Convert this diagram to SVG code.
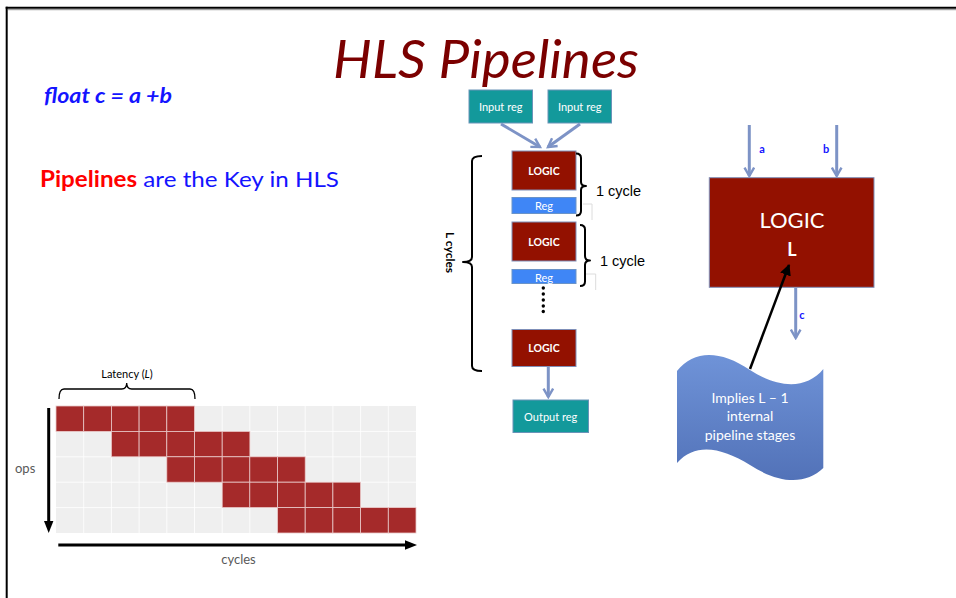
<svg xmlns="http://www.w3.org/2000/svg" width="956" height="598" viewBox="0 0 956 598">
  <defs>
    <style>
      .cal { font-family: Lato, "Open Sans", "Liberation Sans", sans-serif; }
      .ari { font-family: "Liberation Sans", Arial, sans-serif; }
      .logic { fill: #931100; stroke: #7f8fb8; stroke-width: 1; }
      .teal { fill: #13999b; stroke: #6a93b8; stroke-width: 1; }
      .reg { fill: #3f86f6; stroke: #6a93c8; stroke-width: 1; }
      .wt { fill: #ffffff; text-anchor: middle; }
      .flow { stroke: #7d93c6; stroke-width: 3; fill: none; marker-end: url(#chev); }
      .brace { fill: none; stroke: #000; stroke-width: 2; stroke-linejoin: round; }
      .faint { fill: none; stroke: #dcdcdc; stroke-width: 1; }
      .lbl { fill: #1414ff; font-weight: bold; font-size: 11px; }
      .gray { fill: #595959; font-size: 13px; }
      .cell { fill: #a52a2a; stroke: #e9c9c9; stroke-width: 0.8; }
    </style>
    <marker id="chev" viewBox="0 0 10 10" refX="8" refY="5" markerWidth="4" markerHeight="4" orient="auto" markerUnits="strokeWidth">
      <path d="M1,1 L8,5 L1,9" fill="none" stroke="#7d93c6" stroke-width="2"/>
    </marker>
    <marker id="blk" viewBox="0 0 10 10" refX="9" refY="5" markerWidth="4.5" markerHeight="4.5" orient="auto" markerUnits="strokeWidth">
      <path d="M0,0 L10,5 L0,10 Z" fill="#000"/>
    </marker>
    <linearGradient id="waveFill" x1="0" y1="0" x2="0" y2="1">
      <stop offset="0" stop-color="#6f93d8"/>
      <stop offset="1" stop-color="#5272b8"/>
    </linearGradient>
  </defs>

  <rect width="956" height="598" fill="#ffffff"/>

  <!-- slide frame -->
  <g id="frame">
    <line x1="8" y1="9.7" x2="956" y2="9.7" stroke="#8c8c8c" stroke-width="1"/>
    <line x1="5.7" y1="7.7" x2="956" y2="7.7" stroke="#000" stroke-width="2"/>
    <line x1="6.7" y1="6.7" x2="6.7" y2="598" stroke="#000" stroke-width="2"/>
  </g>

  <!-- headings -->
  <g id="title">
    <text x="486" y="78" class="cal" font-size="52" font-style="italic" fill="#7b0000" text-anchor="middle" textLength="306" lengthAdjust="spacingAndGlyphs">HLS Pipelines</text>
  </g>
  <g id="code">
    <text x="44" y="103" class="cal" font-size="20" font-style="italic" font-weight="bold" fill="#1414ff" textLength="128" lengthAdjust="spacingAndGlyphs">float c = a +b</text>
  </g>
  <g id="tagline">
    <text x="40" y="187" class="cal" font-size="22" textLength="299" lengthAdjust="spacingAndGlyphs"><tspan fill="#ff0000" font-weight="bold">Pipelines</tspan><tspan fill="#1414ff"> are the Key in HLS</tspan></text>
  </g>

  <!-- pipeline column -->
  <g id="input-reg-1">
    <rect class="teal" x="469" y="90" width="63.5" height="33"/>
    <text class="cal wt" x="500.7" y="111" font-size="11">Input reg</text>
  </g>
  <g id="input-reg-2">
    <rect class="teal" x="548" y="90" width="63.5" height="33"/>
    <text class="cal wt" x="579.7" y="111" font-size="11">Input reg</text>
  </g>

  <g id="logic-1">
    <rect class="logic" x="512" y="151" width="64" height="39"/>
    <text class="cal wt" x="544" y="174.5" font-size="10.5" font-weight="bold">LOGIC</text>
  </g>
  <g id="reg-1">
    <rect class="reg" x="512" y="197.5" width="64" height="16"/>
    <text class="cal wt" x="544" y="210" font-size="11">Reg</text>
  </g>
  <g id="logic-2">
    <rect class="logic" x="512" y="222" width="64" height="39"/>
    <text class="cal wt" x="544" y="245.5" font-size="10.5" font-weight="bold">LOGIC</text>
  </g>
  <g id="reg-2">
    <rect class="reg" x="512" y="269.5" width="64" height="14"/>
    <text class="cal wt" x="544" y="282" font-size="11">Reg</text>
  </g>
  <g id="ellipsis">
    <circle cx="543.3" cy="288" r="1.7"/>
    <circle cx="543.3" cy="294" r="1.7"/>
    <circle cx="543.3" cy="300" r="1.7"/>
    <circle cx="543.3" cy="306" r="1.7"/>
    <circle cx="543.3" cy="311.5" r="1.7"/>
  </g>
  <g id="logic-3">
    <rect class="logic" x="512" y="329.5" width="64" height="37"/>
    <text class="cal wt" x="544" y="352" font-size="10.5" font-weight="bold">LOGIC</text>
  </g>
  <g id="output-reg">
    <rect class="teal" x="513" y="400" width="75.5" height="32.5"/>
    <text class="cal wt" x="550.7" y="420.5" font-size="11">Output reg</text>
  </g>

  <!-- stage brackets -->
  <g id="cycle-bracket-1">
    <path class="faint" d="M583,204 H592 V220"/>
    <path class="brace" d="M576,153.5 Q581,153.5 581,158 V182 Q581,186 586,186 Q581,186 581,190 V211 Q581,215.5 576,215.5"/>
    <text class="ari" x="596" y="196" font-size="14.5" fill="#000">1 cycle</text>
  </g>
  <g id="cycle-bracket-2">
    <path class="faint" d="M585,274 H595.7 V290"/>
    <path class="brace" d="M580,225 Q585,225 585,229.5 V256 Q585,260.5 590,260.5 Q585,260.5 585,265 V281.5 Q585,286 580,286"/>
    <text class="ari" x="600" y="266" font-size="14.5" fill="#000">1 cycle</text>
  </g>
  <g id="latency-bracket">
    <path class="brace" d="M482,156 Q472,156 472,161 V257 Q472,262 463,262 Q472,262 472,267 V366 Q472,371 482,371"/>
    <text class="cal" transform="translate(446,252.5) rotate(90)" x="0" y="0" font-size="12" font-weight="bold" fill="#000" text-anchor="middle">L cycles</text>
  </g>

  <!-- single logic block view -->
  <g id="logic-block">
    <rect class="logic" x="709.3" y="177.7" width="164.7" height="109.6"/>
    <text class="cal wt" x="792" y="228" font-size="22">LOGIC</text>
    <text class="cal wt" x="792" y="256" font-size="18" font-weight="bold">L</text>
  </g>
  <g id="port-labels">
    <text class="cal lbl" x="762" y="153" text-anchor="middle">a</text>
    <text class="cal lbl" x="826" y="153" text-anchor="middle">b</text>
    <text class="cal lbl" x="802" y="319" text-anchor="middle">c</text>
  </g>
  <g id="note">
    <path d="M677,371 C694,350 720,350 750,370 C778,388 806,390 823.3,369 L823.3,468 C806,485 779,484 750,465 C722,448 696,442 677,463 Z" fill="url(#waveFill)"/>
    <text class="cal wt" x="750" y="403" font-size="14">Implies L – 1</text>
    <text class="cal wt" x="750" y="421" font-size="14">internal</text>
    <text class="cal wt" x="750" y="439.5" font-size="14">pipeline stages</text>
  </g>

  <!-- connectors -->
  <g id="connectors">
    <line class="flow" x1="501" y1="124" x2="540" y2="147"/>
    <line class="flow" x1="580" y1="124" x2="548" y2="147"/>
    <line class="flow" x1="548.3" y1="367" x2="548.3" y2="397"/>
    <line class="flow" x1="749.3" y1="125" x2="749.3" y2="176"/>
    <line class="flow" x1="836.7" y1="125" x2="836.7" y2="176"/>
    <line class="flow" x1="795.7" y1="288" x2="795.7" y2="338"/>
    <line x1="750" y1="369" x2="789" y2="265" stroke="#000" stroke-width="2.5" marker-end="url(#blk)"/>
  </g>

  <!-- schedule chart -->
  <g id="schedule-chart">
    <g id="grid">
      <rect x="56" y="406" width="360" height="127" fill="#efefef"/>
      <g stroke="#ffffff" stroke-width="0.8">
        <line x1="83.7" y1="406" x2="83.7" y2="533"/>
        <line x1="111.4" y1="406" x2="111.4" y2="533"/>
        <line x1="139.1" y1="406" x2="139.1" y2="533"/>
        <line x1="166.8" y1="406" x2="166.8" y2="533"/>
        <line x1="194.5" y1="406" x2="194.5" y2="533"/>
        <line x1="222.2" y1="406" x2="222.2" y2="533"/>
        <line x1="249.8" y1="406" x2="249.8" y2="533"/>
        <line x1="277.5" y1="406" x2="277.5" y2="533"/>
        <line x1="305.2" y1="406" x2="305.2" y2="533"/>
        <line x1="332.9" y1="406" x2="332.9" y2="533"/>
        <line x1="360.6" y1="406" x2="360.6" y2="533"/>
        <line x1="388.3" y1="406" x2="388.3" y2="533"/>
        <line x1="56" y1="431.4" x2="416" y2="431.4"/>
        <line x1="56" y1="456.8" x2="416" y2="456.8"/>
        <line x1="56" y1="482.2" x2="416" y2="482.2"/>
        <line x1="56" y1="507.6" x2="416" y2="507.6"/>
      </g>
    </g>
    <g id="busy-cells">
      <rect class="cell" x="56" y="406" width="27.7" height="25.4"/>
      <rect class="cell" x="83.7" y="406" width="27.7" height="25.4"/>
      <rect class="cell" x="111.4" y="406" width="27.7" height="25.4"/>
      <rect class="cell" x="139.1" y="406" width="27.7" height="25.4"/>
      <rect class="cell" x="166.8" y="406" width="27.7" height="25.4"/>

      <rect class="cell" x="111.4" y="431.4" width="27.7" height="25.4"/>
      <rect class="cell" x="139.1" y="431.4" width="27.7" height="25.4"/>
      <rect class="cell" x="166.8" y="431.4" width="27.7" height="25.4"/>
      <rect class="cell" x="194.5" y="431.4" width="27.7" height="25.4"/>
      <rect class="cell" x="222.2" y="431.4" width="27.7" height="25.4"/>

      <rect class="cell" x="166.8" y="456.8" width="27.7" height="25.4"/>
      <rect class="cell" x="194.5" y="456.8" width="27.7" height="25.4"/>
      <rect class="cell" x="222.2" y="456.8" width="27.7" height="25.4"/>
      <rect class="cell" x="249.8" y="456.8" width="27.7" height="25.4"/>
      <rect class="cell" x="277.5" y="456.8" width="27.7" height="25.4"/>

      <rect class="cell" x="222.2" y="482.2" width="27.7" height="25.4"/>
      <rect class="cell" x="249.8" y="482.2" width="27.7" height="25.4"/>
      <rect class="cell" x="277.5" y="482.2" width="27.7" height="25.4"/>
      <rect class="cell" x="305.2" y="482.2" width="27.7" height="25.4"/>
      <rect class="cell" x="332.9" y="482.2" width="27.7" height="25.4"/>

      <rect class="cell" x="277.5" y="507.6" width="27.7" height="25.4"/>
      <rect class="cell" x="305.2" y="507.6" width="27.7" height="25.4"/>
      <rect class="cell" x="332.9" y="507.6" width="27.7" height="25.4"/>
      <rect class="cell" x="360.6" y="507.6" width="27.7" height="25.4"/>
      <rect class="cell" x="388.3" y="507.6" width="27.7" height="25.4"/>
    </g>
    <g id="axes">
      <line x1="48.7" y1="408" x2="48.7" y2="522" stroke="#000" stroke-width="3"/>
      <path d="M44,521 L53.4,521 L48.7,533 Z" fill="#000"/>
      <line x1="58.3" y1="545" x2="406" y2="545" stroke="#000" stroke-width="3"/>
      <path d="M405,540.3 L405,549.7 L417,545 Z" fill="#000"/>
      <text class="cal gray" x="15" y="473">ops</text>
      <text class="cal gray" x="238.5" y="564" text-anchor="middle">cycles</text>
    </g>
    <g id="latency-label">
      <path d="M59,399 Q59,389 64,389 H121.7 Q126.7,389 126.7,383 Q126.7,389 131.7,389 H190 Q195,389 195,399" fill="none" stroke="#000" stroke-width="1.3"/>
      <text class="cal" x="127" y="378" font-size="11" fill="#000" text-anchor="middle">Latency (<tspan font-style="italic">L</tspan>)</text>
    </g>
  </g>
</svg>
